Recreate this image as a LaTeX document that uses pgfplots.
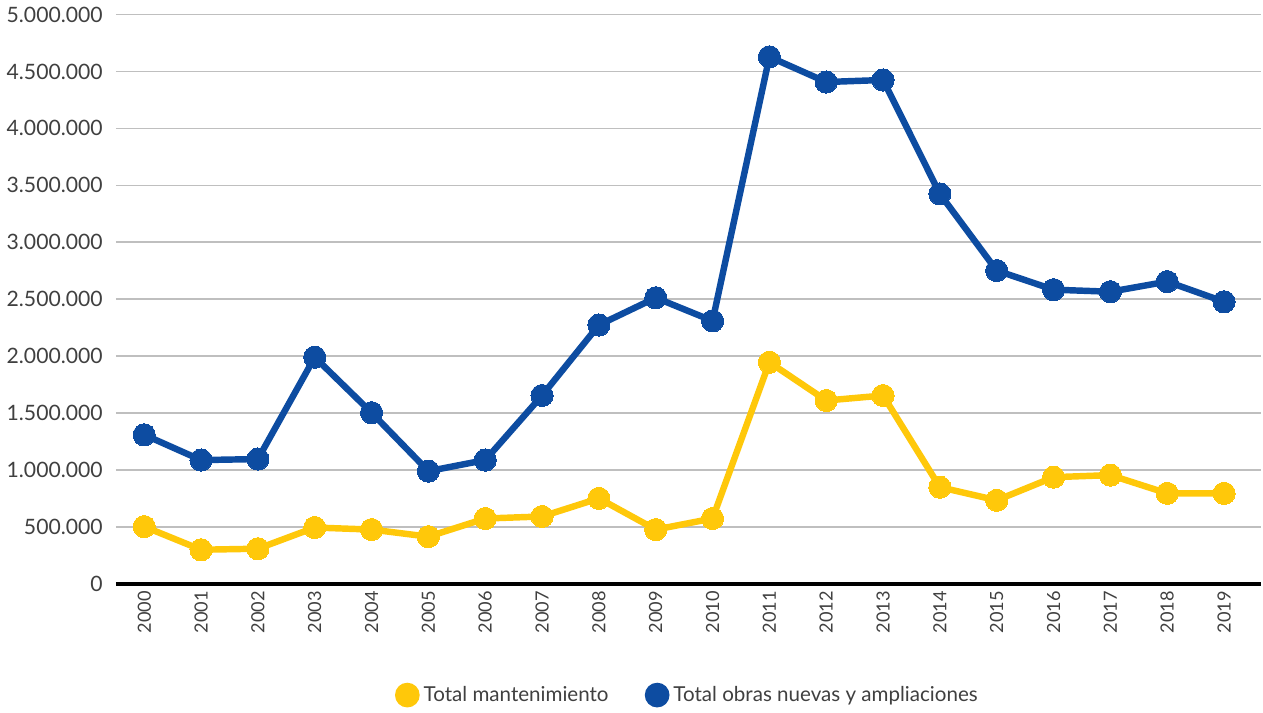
\documentclass[border=0pt]{standalone}
\usepackage{fontspec}
\setmainfont{Lato}
\usepackage{pgfplots}
\pgfplotsset{compat=1.18}
\definecolor{cyel}{HTML}{FFC80A}
\definecolor{cblue}{HTML}{0D4CA1}
\definecolor{ctxt}{HTML}{404040}
\definecolor{cgrid}{HTML}{BFBFBF}
\begin{document}
\begin{tikzpicture}
\begin{axis}[
  scale only axis,
  width=568pt, height=282.5pt,
  xmin=-0.5, xmax=19.65,
  ymin=0, ymax=5000000,
  axis x line*=bottom,
  axis y line*=left,
  y axis line style={draw=none},
  x axis line style={black, line width=2pt, -},
  xtick={0,...,19},
  xticklabels={2000,2001,2002,2003,2004,2005,2006,2007,2008,2009,2010,2011,2012,2013,2014,2015,2016,2017,2018,2019},
  x tick label style={rotate=90, anchor=east, font=\fontsize{9}{10}\selectfont, text=ctxt},
  xtick style={draw=none},
  ytick={0,500000,1000000,1500000,2000000,2500000,3000000,3500000,4000000,4500000,5000000},
  yticklabels={0,500.000,1.000.000,1.500.000,2.000.000,2.500.000,3.000.000,3.500.000,4.000.000,4.500.000,5.000.000},
  scaled y ticks=false,
  ymajorgrids,
  grid style={cgrid, line width=0.8pt},
  ytick style={draw=none},
  yticklabel style={font=\fontsize{10.5}{12}\selectfont, text=ctxt, xshift=-3pt},
  clip=false,
  legend style={at={(0.5,-0.195)}, anchor=center, draw=none, font=\fontsize{10.2}{12}\selectfont, text=ctxt, /tikz/every even column/.append style={column sep=16pt}},
  legend columns=2,
  legend image code/.code={\fill[#1] (0.05cm,0cm) circle (4.5pt);},
]
\addplot[cyel, line width=3.2pt, mark=*, mark size=5.5pt, mark options={fill=cyel, draw=cyel, line width=0pt}] coordinates {
(0,504000) (1,301000) (2,310000) (3,496000) (4,478000) (5,416000) (6,575000) (7,593000) (8,752000) (9,478000)
(10,575000) (11,1947000) (12,1611000) (13,1655000) (14,850000) (15,735000) (16,938000) (17,956000) (18,796000) (19,796000)};
\addlegendentry{Total mantenimiento}
\addplot[cblue, line width=3.2pt, mark=*, mark size=5.5pt, mark options={fill=cblue, draw=cblue, line width=0pt}] coordinates {
(0,1310000) (1,1088000) (2,1097000) (3,1991000) (4,1504000) (5,991000) (6,1088000) (7,1655000) (8,2274000) (9,2513000)
(10,2310000) (11,4628000) (12,4407000) (13,4425000) (14,3425000) (15,2752000) (16,2584000) (17,2566000) (18,2655000) (19,2478000)};
\addlegendentry{Total obras nuevas y ampliaciones}
\end{axis}
\end{tikzpicture}
\end{document}
